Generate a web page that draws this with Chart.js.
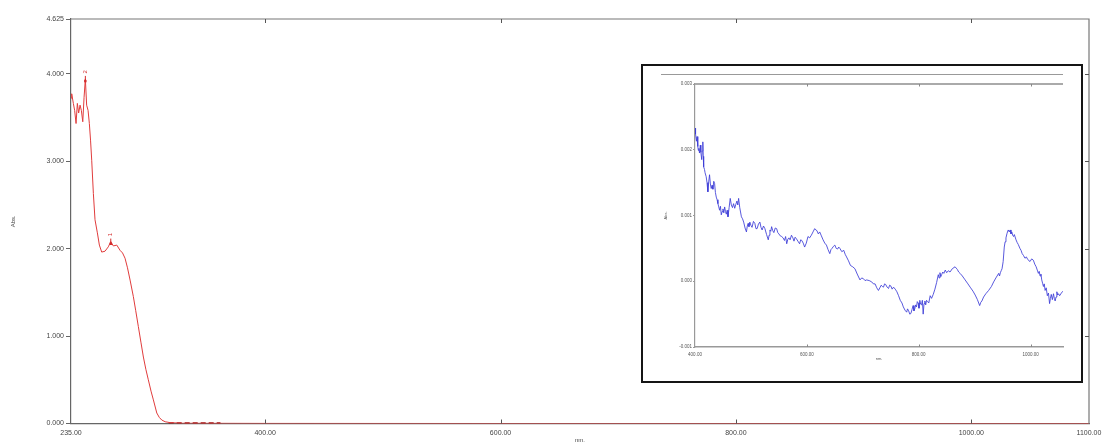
<!DOCTYPE html>
<html>
<head>
<meta charset="utf-8">
<title>UV-Vis absorbance spectrum</title>
<script src="https://cdn.jsdelivr.net/npm/chart.js@4.4.1/dist/chart.umd.min.js"></script>
<style>
  html, body { margin: 0; padding: 0; background: #fff; }
  #wrap { position: relative; width: 1111px; height: 444px; overflow: hidden; }
  #main { position: absolute; left: 0; top: 0; }
  #insetBox { position: absolute; left: 641px; top: 64px; width: 438px; height: 315px;
              border: 2px solid #151515; background: #fff; }
  #inset { position: absolute; left: 0; top: 0; }
</style>
</head>
<body>
<div id="wrap">
  <canvas id="main" width="1111" height="444"></canvas>
  <div id="insetBox"><canvas id="inset" width="438" height="315"></canvas></div>
</div>
<script>
// Full-range spectrum (nm / absorbance)
const spectrumNm  = [235, 235.6, 237, 238.1, 239.3, 240.4, 241.5, 242.7, 243.8, 245, 246.1, 247.2, 248.3, 249.5, 250.6,
                     251.6, 252.6, 254, 255.4, 257.4, 259.1, 261.1, 263.9, 266.7, 268.8, 271, 273.9, 276.7, 278.8, 280.9,
                     283, 285.2, 288, 290, 292.2, 294.4, 296.5, 298.6, 300.7, 303, 305, 307.9, 310, 312.1, 315, 319.2,
                     330, 400, 600, 800, 1100];
const spectrumAbs = [3.72, 3.77, 3.66, 3.58, 3.43, 3.66, 3.55, 3.64, 3.58, 3.45, 3.73, 3.94, 3.64, 3.58, 3.43,
                     3.24, 3.01, 2.63, 2.33, 2.18, 2.04, 1.96, 1.97, 2.02, 2.08, 2.03, 2.04, 1.98, 1.95, 1.89,
                     1.78, 1.64, 1.45, 1.29, 1.11, 0.93, 0.76, 0.62, 0.50, 0.37, 0.27, 0.12, 0.07, 0.04, 0.02, 0.01,
                     0.003, 0.001, 0, 0, 0];

// Baseline noise segment near zero
const noiseNm  = [318, 330, 345, 362];
const noiseAbs = [0.004, 0.004, 0.004, 0.004];

// Picked peaks
const peakNm     = [268.8, 247.2];
const peakAbs    = [2.08, 3.94];
const peakLabels = ['1', '2'];

// Axis ticks of the full view
const xTickValues = [235, 400, 600, 800, 1000, 1100];
const yTickValues = [0, 1, 2, 3, 4, 4.625];

// Zoomed visible-range detail (nm / absorbance), ten readings per row
const detailNm = [
  400, 401, 402.5, 403.6, 405, 406, 407, 408, 409.5, 410.5,
  412, 413, 414, 414.8, 415.5, 417, 418, 420, 421.5, 423,
  424.5, 426, 427.5, 429, 430.5, 432, 433.5, 435, 436.5, 438,
  439.5, 441, 442.5, 444, 445.5, 447, 448.5, 450, 451.5, 453,
  454.5, 456, 457.5, 459, 461, 463, 465, 467, 469, 471,
  473, 475, 476.5, 478, 480, 483, 485, 487, 489.5, 492,
  493.5, 495, 496.5, 498, 500, 502, 504.5, 507, 509, 511,
  513.5, 516, 518, 520, 522.5, 525, 528, 531, 532.5, 534,
  535.5, 537, 539, 541, 543.5, 546, 548, 550, 552.5, 555,
  557.5, 560, 562, 564, 566, 568, 570, 572.5, 575, 577,
  579, 581, 584, 587, 589, 591, 593.5, 596, 599, 602,
  605, 608, 611, 614, 616, 618, 620.5, 623, 626, 629,
  632, 635, 638, 641, 643, 645, 647.5, 650, 652.5, 655,
  657, 659, 662.5, 666, 668.5, 671, 674.5, 678, 682, 686,
  690, 695, 698, 701, 704, 707, 711.5, 716, 719, 722,
  725, 728, 730.5, 733, 735, 737, 739, 741, 743.5, 746,
  748, 750, 752.5, 755, 758, 761, 764, 767, 770, 772.5,
  775.5, 778.5, 780, 782, 784, 786, 788, 790, 791.5, 793,
  794.5, 796, 797.5, 799, 800.5, 802, 803.5, 805, 806.5, 808,
  809.5, 811, 812.5, 814, 816, 818, 820.5, 823, 826, 829,
  832, 835, 836.5, 838, 839.5, 841, 843, 845, 847.5, 850,
  853, 856, 860, 865, 867, 869, 871.5, 874, 878, 883,
  888, 892, 897, 901, 905, 909, 911, 913, 916, 920,
  925, 930, 934, 938, 943, 944.5, 946, 947.5, 949, 951,
  953, 954.5, 956, 958, 960, 962, 963.5, 965, 966.5, 968,
  969.5, 971, 974, 976, 978, 981, 983, 985, 987.5, 990,
  992.5, 995, 999, 1002, 1005, 1007.5, 1010, 1012, 1014, 1015.5,
  1017, 1018.5, 1020, 1021.5, 1023, 1024.5, 1026, 1028, 1030, 1032,
  1034, 1035.5, 1037, 1039, 1041, 1042.5, 1044, 1045.5, 1047, 1048.5,
  1050, 1052, 1055, 1058
];
const detailAbs = [
  0.00233, 0.00224, 0.00213, 0.00220, 0.00205, 0.00199, 0.00202, 0.00195, 0.00207, 0.00196,
  0.00185, 0.00198, 0.00212, 0.00190, 0.00174, 0.00170, 0.00165, 0.00159, 0.00150, 0.00136,
  0.00151, 0.00162, 0.00148, 0.00141, 0.00146, 0.00140, 0.00152, 0.00149, 0.00135, 0.00128,
  0.00124, 0.00118, 0.00113, 0.00108, 0.00114, 0.00101, 0.00106, 0.00110, 0.00104, 0.00113,
  0.00106, 0.00102, 0.00108, 0.00098, 0.00112, 0.00126, 0.00116, 0.00112, 0.00118, 0.00111,
  0.00117, 0.00122, 0.00116, 0.00126, 0.00112, 0.00098, 0.00095, 0.00090, 0.00081, 0.00075,
  0.00084, 0.00088, 0.00083, 0.00090, 0.00085, 0.00082, 0.00091, 0.00088, 0.00080, 0.00080,
  0.00087, 0.00090, 0.00082, 0.00078, 0.00084, 0.00080, 0.00071, 0.00063, 0.00070, 0.00078,
  0.00076, 0.00083, 0.00077, 0.00074, 0.00081, 0.00080, 0.00074, 0.00072, 0.00069, 0.00068,
  0.00066, 0.00062, 0.00068, 0.00057, 0.00064, 0.00066, 0.00063, 0.00070, 0.00066, 0.00061,
  0.00067, 0.00065, 0.00061, 0.00057, 0.00063, 0.00062, 0.00058, 0.00052, 0.00058, 0.00068,
  0.00066, 0.00070, 0.00075, 0.00080, 0.00078, 0.00077, 0.00072, 0.00075, 0.00069, 0.00063,
  0.00058, 0.00055, 0.00048, 0.00042, 0.00048, 0.00050, 0.00053, 0.00055, 0.00050, 0.00049,
  0.00052, 0.00050, 0.00045, 0.00047, 0.00041, 0.00037, 0.00031, 0.00024, 0.00022, 0.00019,
  0.00011, 0.00002, 0.00005, 0.00004, 0.00001, 0.00002, 0.00001, -0.00001, -0.00004, -0.00004,
  -0.00010, -0.00014, -0.00010, -0.00006, -0.00008, -0.00009, -0.00004, -0.00005, -0.00009, -0.00011,
  -0.00006, -0.00007, -0.00012, -0.00009, -0.00012, -0.00016, -0.00022, -0.00029, -0.00033, -0.00039,
  -0.00044, -0.00047, -0.00042, -0.00045, -0.00050, -0.00049, -0.00043, -0.00037, -0.00045, -0.00042,
  -0.00036, -0.00039, -0.00031, -0.00033, -0.00041, -0.00029, -0.00035, -0.00036, -0.00029, -0.00050,
  -0.00034, -0.00030, -0.00036, -0.00029, -0.00031, -0.00033, -0.00022, -0.00026, -0.00020, -0.00012,
  -0.00002, 0.00010, 0.00005, 0.00013, 0.00007, 0.00010, 0.00014, 0.00012, 0.00017, 0.00013,
  0.00016, 0.00014, 0.00019, 0.00022, 0.00020, 0.00018, 0.00014, 0.00012, 0.00008, 0.00002,
  -0.00004, -0.00009, -0.00015, -0.00021, -0.00028, -0.00037, -0.00032, -0.00030, -0.00024, -0.00019,
  -0.00014, -0.00008, -0.00001, 0.00005, 0.00012, 0.00008, 0.00013, 0.00016, 0.00019, 0.00030,
  0.00052, 0.00060, 0.00066, 0.00073, 0.00078, 0.00075, 0.00078, 0.00072, 0.00075, 0.00070,
  0.00068, 0.00071, 0.00063, 0.00059, 0.00056, 0.00050, 0.00047, 0.00042, 0.00039, 0.00035,
  0.00037, 0.00033, 0.00030, 0.00034, 0.00032, 0.00026, 0.00022, 0.00017, 0.00012, 0.00015,
  0.00008, 0.00011, 0.00002, -0.00003, -0.00008, -0.00004, -0.00014, -0.00010, -0.00022, -0.00018,
  -0.00034, -0.00026, -0.00020, -0.00028, -0.00019, -0.00026, -0.00030, -0.00024, -0.00016, -0.00021,
  -0.00019, -0.00022, -0.00018, -0.00015
];

const insetXTicks = [400, 600, 800, 1000];
const insetYTicks = [-0.001, 0, 0.001, 0.002, 0.003];

const toPoints = (xs, ys) => xs.map((x, i) => ({ x: x, y: ys[i] }));
const labelFont = { family: 'Liberation Sans', size: 7 };

// Frame, inner tick marks and peak annotations of the full view
const mainDecor = {
  id: 'mainDecor',
  afterDraw(chart) {
    const { ctx, chartArea: a, scales: { x, y } } = chart;
    ctx.save();
    ctx.strokeStyle = '#777';
    ctx.lineWidth = 1.2;
    ctx.beginPath();
    ctx.moveTo(a.left, a.top); ctx.lineTo(a.right, a.top); ctx.lineTo(a.right, a.bottom);
    ctx.stroke();
    ctx.lineWidth = 1;
    ctx.strokeStyle = '#555';
    ctx.beginPath();
    [400, 600, 800, 1000].forEach(v => {
      const px = Math.round(x.getPixelForValue(v)) + 0.5;
      ctx.moveTo(px, a.bottom); ctx.lineTo(px, a.bottom - 4);
      ctx.moveTo(px, a.top); ctx.lineTo(px, a.top + 4);
    });
    [1, 2, 3, 4].forEach(v => {
      const py = Math.round(y.getPixelForValue(v)) + 0.5;
      ctx.moveTo(a.right, py); ctx.lineTo(a.right - 4, py);
    });
    ctx.stroke();

    // peak picks: short vertical mark and rotated number above it
    ctx.strokeStyle = '#d42a2a';
    ctx.fillStyle = '#d42a2a';
    ctx.font = '6px "Liberation Sans"';
    ctx.textAlign = 'center';
    ctx.textBaseline = 'middle';
    peakNm.forEach((nm, i) => {
      const px = x.getPixelForValue(nm);
      const py = y.getPixelForValue(peakAbs[i]);
      ctx.beginPath();
      ctx.moveTo(px, py + 3); ctx.lineTo(px, py - 3);
      ctx.stroke();
      ctx.fillRect(px - 1.2, py + 1, 2.4, 2.4);
      ctx.save();
      ctx.translate(px, py - 7);
      ctx.rotate(-Math.PI / 2);
      ctx.fillText(peakLabels[i], 0, 0);
      ctx.restore();
    });
    ctx.restore();
  }
};

new Chart(document.getElementById('main'), {
  type: 'line',
  data: {
    datasets: [
      { data: toPoints(spectrumNm, spectrumAbs), borderColor: '#e03c3c', borderWidth: 1, pointRadius: 0, tension: 0 },
      { data: toPoints(noiseNm, noiseAbs), borderColor: '#9a1414', borderWidth: 1.6, borderDash: [5, 3], pointRadius: 0 }
    ]
  },
  options: {
    responsive: false,
    animation: false,
    layout: { padding: { top: 19, right: 22, left: 0, bottom: 0 } },
    plugins: { legend: { display: false }, tooltip: { enabled: false } },
    scales: {
      x: {
        type: 'linear', min: 235, max: 1100,
        afterBuildTicks: s => { s.ticks = xTickValues.map(v => ({ value: v })); },
        afterFit: s => { s.height = 20.5; },
        ticks: { callback: v => Number(v).toFixed(2), maxRotation: 0, autoSkip: false, font: labelFont, color: '#444', padding: 5 },
        grid: { drawOnChartArea: false, drawTicks: false },
        border: { color: '#666', width: 1.2 },
        title: { display: true, text: 'nm.', font: { family: 'Liberation Sans', size: 6 }, color: '#444', padding: 0 }
      },
      y: {
        type: 'linear', min: 0, max: 4.625,
        afterBuildTicks: s => { s.ticks = yTickValues.map(v => ({ value: v })); },
        afterFit: s => { s.width = 71; },
        ticks: { callback: v => Number(v).toFixed(3), font: labelFont, color: '#444', padding: 2 },
        grid: { drawOnChartArea: false, drawTicks: true, tickLength: 5, color: '#666' },
        border: { color: '#666', width: 1.2 },
        title: { display: true, text: 'Abs.', font: { family: 'Liberation Sans', size: 6 }, color: '#444', padding: { top: 10, bottom: 0 } }
      }
    }
  },
  plugins: [mainDecor]
});

// Header rule, frame and inner ticks of the zoomed view
const insetDecor = {
  id: 'insetDecor',
  afterDraw(chart) {
    const { ctx, chartArea: a, scales: { x } } = chart;
    ctx.save();
    ctx.strokeStyle = '#999';
    ctx.lineWidth = 1;
    ctx.beginPath();
    ctx.moveTo(18, 8.5); ctx.lineTo(a.right, 8.5);
    ctx.stroke();
    ctx.strokeStyle = '#aaa';
    ctx.lineWidth = 2;
    ctx.beginPath();
    ctx.moveTo(a.left, a.top); ctx.lineTo(a.right, a.top);
    ctx.stroke();
    ctx.strokeStyle = '#888';
    ctx.lineWidth = 1;
    ctx.beginPath();
    [600, 800, 1000].forEach(v => {
      const px = Math.round(x.getPixelForValue(v)) + 0.5;
      ctx.moveTo(px, a.bottom); ctx.lineTo(px, a.bottom - 2.5);
      ctx.moveTo(px, a.top); ctx.lineTo(px, a.top + 2.5);
    });
    ctx.stroke();
    ctx.restore();
  }
};

const insetFont = { family: 'Liberation Sans', size: 4.5 };

new Chart(document.getElementById('inset'), {
  type: 'line',
  data: {
    datasets: [
      { data: toPoints(detailNm, detailAbs), borderColor: 'rgba(60,60,215,0.85)', borderWidth: 1, pointRadius: 0, tension: 0 }
    ]
  },
  options: {
    responsive: false,
    animation: false,
    layout: { padding: { top: 18, right: 18, left: 0, bottom: 0 } },
    plugins: { legend: { display: false }, tooltip: { enabled: false } },
    scales: {
      x: {
        type: 'linear', min: 400, max: 1058,
        afterBuildTicks: s => { s.ticks = insetXTicks.map(v => ({ value: v })); },
        afterFit: s => { s.height = 34; },
        ticks: { callback: v => Number(v).toFixed(2), maxRotation: 0, autoSkip: false, font: insetFont, color: '#555', padding: 5 },
        grid: { drawOnChartArea: false, drawTicks: false },
        border: { color: '#999', width: 1.5 },
        title: { display: true, text: 'nm.', font: { family: 'Liberation Sans', size: 4 }, color: '#555', padding: { top: 1, bottom: 20 } }
      },
      y: {
        type: 'linear', min: -0.001, max: 0.003,
        afterBuildTicks: s => { s.ticks = insetYTicks.map(v => ({ value: v })); },
        afterFit: s => { s.width = 52; },
        ticks: { callback: v => Number(v).toFixed(3), font: insetFont, color: '#555', padding: 1 },
        grid: { drawOnChartArea: false, drawTicks: true, tickLength: 2, color: '#999' },
        border: { color: '#999', width: 1.2 },
        title: { display: true, text: 'Abs.', font: { family: 'Liberation Sans', size: 4 }, color: '#555', padding: { top: 20, bottom: 0 } }
      }
    }
  },
  plugins: [insetDecor]
});
</script>
</body>
</html>
